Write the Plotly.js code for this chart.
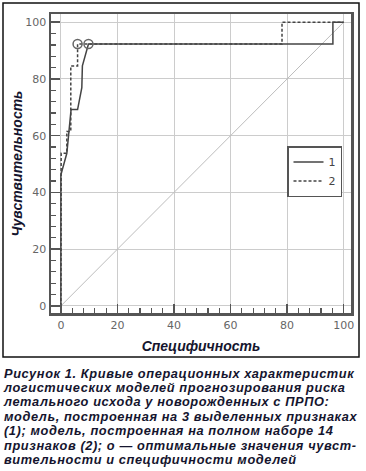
<!DOCTYPE html>
<html>
<head>
<meta charset="utf-8">
<script src="https://cdn.plot.ly/plotly-3.0.1.min.js"></script>
<style>
html,body{margin:0;padding:0;background:#fff;}
#wrap{position:relative;width:366px;height:471px;overflow:hidden;}
#chart{width:366px;height:471px;}
#caption{position:absolute;left:4px;top:366.5px;width:362px;font-family:"Liberation Sans",Arial,sans-serif;font-size:12.8px;letter-spacing:0.6px;font-weight:bold;font-style:italic;line-height:14.4px;color:#15152e;white-space:nowrap;}
</style>
</head>
<body>
<div id="wrap">
<div id="chart"></div>
<div id="caption"></div>
</div>
<script>
// Model 1 (3 selected features) — solid
const model1X = [0, 0, 2.1, 3.6, 5.9, 7.4, 7.6, 9.75, 96.2, 96.2, 100];
const model1Y = [0, 46.2, 53.8, 69.2, 69.2, 76.9, 84.6, 92.3, 92.3, 100, 100];
// Model 2 (full set of 14 features) — dashed
const model2X = [0, 0, 0.1, 2.1, 2.1, 3.5, 3.5, 5.9, 5.9, 78.2, 78.2, 100];
const model2Y = [0, 46.2, 53.8, 53.8, 61.5, 61.5, 84.6, 84.6, 92.3, 92.3, 100, 100];
// Optimal points
const optimalX = [5.9, 9.75];
const optimalY = [92.3, 92.3];
// Reference diagonal
const diagX = [0, 100];
const diagY = [0, 100];
const seriesNames = ["1", "2"];
const tickValues = [0, 20, 40, 60, 80, 100];
const xTitle = "Специфичность";
const yTitle = "Чувствительность";
const captionLines = [
  "Рисунок 1. Кривые операционных характеристик",
  "логистических моделей прогнозирования риска",
  "летального исхода у новорожденных с ПРПО:",
  "модель, построенная на 3 выделенных признаках",
  "(1); модель, построенная на полном наборе 14",
  "признаков (2); o — оптимальные значения чувст-",
  "вительности и специфичности моделей"
];

const W = 366, H = 471;
const L = 51, R = 15, T = 14, B = 158;
const pw = W - L - R, ph = H - T - B;
const px2x = p => (p - L) / pw;
const py2y = p => (H - B - p) / ph;

const cap = document.getElementById("caption");
captionLines.forEach(t => {
  const d = document.createElement("div");
  d.textContent = t;
  cap.appendChild(d);
});

const traces = [
  {x: diagX, y: diagY, mode: "lines", line: {color: "#bdbdbd", width: 1}, showlegend: false, hoverinfo: "skip"},
  {x: model1X, y: model1Y, mode: "lines", name: seriesNames[0], line: {color: "#444", width: 1.5}},
  {x: model2X, y: model2Y, mode: "lines", name: seriesNames[1], line: {color: "#444", width: 1.5, dash: "3px,2px"}},
  {x: optimalX, y: optimalY, mode: "markers", showlegend: false,
   marker: {symbol: "circle-open", size: 9, color: "#666", line: {width: 1.5, color: "#666"}}}
];

const axisCommon = {
  tickvals: tickValues,
  ticktext: tickValues.map(String),
  ticks: "inside",
  ticklen: 9,
  tickwidth: 1.5,
  tickcolor: "#555",
  showline: true,
  linecolor: "#555",
  linewidth: 2.5,
  mirror: true,
  showgrid: true,
  gridcolor: "#cccccc",
  gridwidth: 1,
  zeroline: false,
  automargin: true,
  tickfont: {family: "DejaVu Sans", size: 11, color: "#666"},
  minor: {dtick: 4, ticks: "inside", ticklen: 5, tickwidth: 1.2, tickcolor: "#555", showgrid: false}
};

const layout = {
  width: W, height: H,
  margin: {l: L, r: R, t: T, b: B, pad: 0},
  paper_bgcolor: "#fff",
  plot_bgcolor: "#fff",
  showlegend: true,
  legend: {
    x: px2x(287), y: py2y(146), xanchor: "left", yanchor: "top",
    bgcolor: "#fff", bordercolor: "#555", borderwidth: 1.5,
    font: {family: "DejaVu Sans", size: 11, color: "#444"},
    tracegroupgap: 0, itemwidth: 30
  },
  xaxis: Object.assign({}, axisCommon, {
    range: [-3.5, 102.6],
    title: {text: "<b><i>" + xTitle + "</i></b>", font: {family: "Liberation Sans", size: 14, color: "#15152e"}, standoff: 11}
  }),
  yaxis: Object.assign({}, axisCommon, {
    range: [-2.5, 102.9],
    title: {text: "<b><i>" + yTitle + "</i></b>", font: {family: "Liberation Sans", size: 14, color: "#15152e"}, standoff: 0}
  }),
  shapes: [
    {type: "rect", xref: "paper", yref: "paper",
     x0: px2x(3), x1: px2x(359), y0: py2y(357), y1: py2y(3),
     line: {color: "#111", width: 1.5}, fillcolor: "rgba(0,0,0,0)", layer: "below"}
  ]
};

Plotly.newPlot("chart", traces, layout, {displayModeBar: false, staticPlot: true});
</script>
</body>
</html>
